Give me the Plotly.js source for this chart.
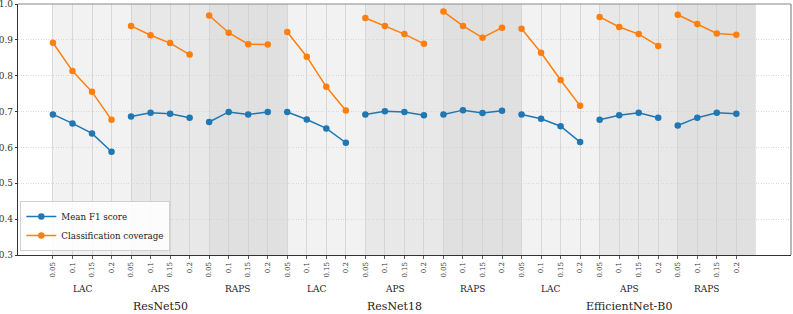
<!DOCTYPE html>
<html>
<head>
<meta charset="utf-8">
<script src="https://cdn.plot.ly/plotly-3.0.1.min.js"></script>
<style>
  html, body { margin: 0; padding: 0; background: #fff; }
  #chart { width: 793px; height: 314px; }
</style>
</head>
<body>
<div id="chart"></div>
<script>
// Conformal prediction sweep: three backbones x three score functions x four alpha levels
const models = ["ResNet50", "ResNet18", "EfficientNet-B0"];
const methods = ["LAC", "APS", "RAPS"];
const alphas = ["0.05", "0.1", "0.15", "0.2"];

// Mean F1 score, one row of four alphas per (model, method)
const meanF1 = [
  [0.692, 0.667, 0.639, 0.588],   // ResNet50 LAC
  [0.686, 0.697, 0.694, 0.683],   // ResNet50 APS
  [0.671, 0.699, 0.692, 0.699],   // ResNet50 RAPS
  [0.699, 0.678, 0.653, 0.613],   // ResNet18 LAC
  [0.692, 0.701, 0.699, 0.690],   // ResNet18 APS
  [0.692, 0.704, 0.696, 0.702],   // ResNet18 RAPS
  [0.692, 0.680, 0.659, 0.615],   // EfficientNet-B0 LAC
  [0.677, 0.690, 0.697, 0.683],   // EfficientNet-B0 APS
  [0.661, 0.683, 0.697, 0.694]    // EfficientNet-B0 RAPS
];

// Classification coverage, same layout
const coverage = [
  [0.892, 0.813, 0.755, 0.677],
  [0.939, 0.913, 0.891, 0.859],
  [0.968, 0.920, 0.888, 0.887],
  [0.922, 0.853, 0.769, 0.703],
  [0.961, 0.939, 0.916, 0.889],
  [0.979, 0.939, 0.906, 0.934],
  [0.931, 0.864, 0.788, 0.716],
  [0.964, 0.936, 0.916, 0.883],
  [0.970, 0.944, 0.918, 0.914]
];

const yTicks = [0.3, 0.4, 0.5, 0.6, 0.7, 0.8, 0.9, 1.0];

const blue = "#1f77b4";
const orange = "#ff7f0e";
const serif = "DejaVu Serif";

// Flatten into one x position per (group, alpha); a null between groups breaks the line
function series(rows) {
  const x = [], y = [];
  rows.forEach((row, g) => {
    row.forEach((v, i) => { x.push(g * alphas.length + i); y.push(v); });
    x.push(null); y.push(null);
  });
  return {x, y};
}

const f1 = series(meanF1);
const cov = series(coverage);

const traces = [
  {x: f1.x, y: f1.y, name: "Mean F1 score", mode: "lines+markers", connectgaps: false,
   line: {color: blue, width: 1.5}, marker: {color: blue, size: 6.5}},
  {x: cov.x, y: cov.y, name: "Classification coverage", mode: "lines+markers", connectgaps: false,
   line: {color: orange, width: 1.5}, marker: {color: orange, size: 6.5}}
];

// Tick positions and labels
const tickvals = [], ticktext = [];
const nGroups = models.length * methods.length;
for (let g = 0; g < nGroups; g++) {
  alphas.forEach((a, i) => { tickvals.push(g * alphas.length + i); ticktext.push(a); });
}

// Background bands shaded by score function
const bandColors = {LAC: "#f2f2f2", APS: "#e8e8e8", RAPS: "#e0e0e0"};
const shapes = [];
for (let g = 0; g < nGroups; g++) {
  const m = methods[g % methods.length];
  shapes.push({type: "rect", layer: "below", xref: "x", yref: "paper",
    x0: g * alphas.length, x1: (g + 1) * alphas.length, y0: 0, y1: 1,
    fillcolor: bandColors[m], line: {width: 0}});
}
// lighter top and right frame
shapes.push({type: "line", xref: "paper", yref: "paper", x0: 0, x1: 1, y0: 1, y1: 1,
  line: {color: "#8a8a8a", width: 1.2}});
shapes.push({type: "line", xref: "paper", yref: "paper", x0: 1, x1: 1, y0: 0, y1: 1,
  line: {color: "#8a8a8a", width: 1.2}});

// Method and model labels under the tick labels
const annotations = [];
for (let g = 0; g < nGroups; g++) {
  annotations.push({xref: "x", yref: "paper", x: g * alphas.length + (alphas.length - 1) / 2,
    y: -0.135, text: methods[g % methods.length], showarrow: false,
    yanchor: "middle", font: {family: serif, size: 9, color: "#222"}});
}
const perModel = methods.length * alphas.length;
models.forEach((name, k) => {
  annotations.push({xref: "x", yref: "paper", x: k * perModel + (perModel - 1) / 2,
    y: -0.207, text: name, showarrow: false, yanchor: "middle",
    font: {family: serif, size: 11, color: "#222"}});
});

const layout = {
  width: 793, height: 314,
  margin: {l: 18, r: 2, t: 4, b: 59, pad: 0},
  paper_bgcolor: "#ffffff",
  plot_bgcolor: "#ffffff",
  font: {family: serif, size: 9, color: "#333"},
  showlegend: true,
  legend: {x: 0.003, y: 0.016, xanchor: "left", yanchor: "bottom",
    bgcolor: "rgba(255,255,255,0.85)", bordercolor: "#d0d0d0", borderwidth: 1,
    font: {family: serif, size: 8.7, color: "#222"}, tracegroupgap: 0, itemwidth: 30},
  xaxis: {
    range: [-1.79, 37.8], tickmode: "array", tickvals: tickvals, ticktext: ticktext,
    tickangle: -90, ticks: "outside", ticklen: 3, tickcolor: "#333", tickwidth: 0.8,
    tickfont: {family: serif, size: 7, color: "#333"},
    showgrid: true, gridcolor: "#cfcfcf", gridwidth: 0.8,
    showline: true, linecolor: "#333", linewidth: 1.2, zeroline: false
  },
  yaxis: {
    range: [0.3, 1.00001], tickmode: "array", tickvals: yTicks,
    ticktext: yTicks.map(v => v.toFixed(1)), ticklabeloverflow: "allow",
    ticks: "outside", ticklen: 2, tickcolor: "#333",
    tickfont: {family: serif, size: 9, color: "#333"},
    showgrid: true, gridcolor: "#d2d2d2", gridwidth: 0.8, griddash: "1px,1.5px",
    showline: true, linecolor: "#333", linewidth: 1.2, zeroline: false
  },
  shapes: shapes,
  annotations: annotations
};

Plotly.newPlot("chart", traces, layout, {displayModeBar: false, staticPlot: true});
</script>
</body>
</html>
